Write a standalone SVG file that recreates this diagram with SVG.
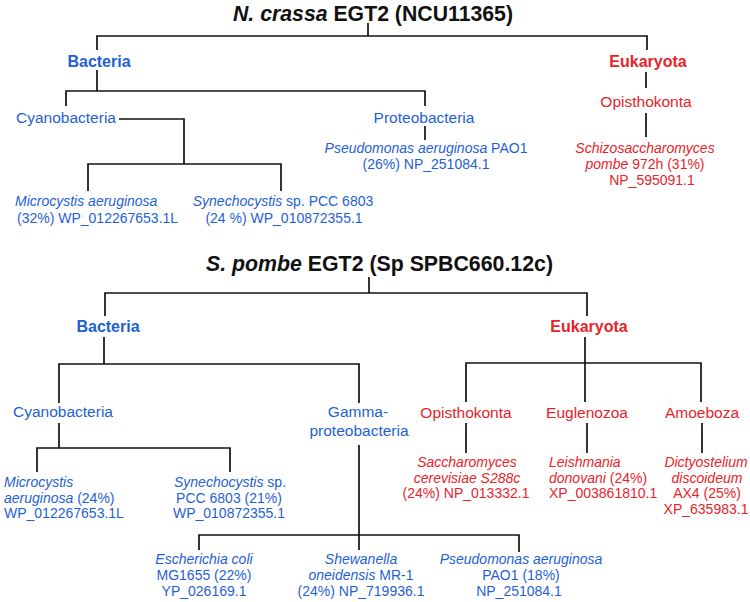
<svg xmlns="http://www.w3.org/2000/svg" width="750" height="602" viewBox="0 0 750 602">
<style>
text{font-family:"Liberation Sans",Arial,Helvetica,sans-serif;}
.title{font-size:22.5px;font-weight:bold;fill:#111;text-anchor:middle;}
.dom{font-size:16px;font-weight:bold;text-anchor:middle;}
.cat{font-size:15.5px;text-anchor:middle;}
.leaf{font-size:14px;}
.mid{text-anchor:middle;}
.b{fill:#1f5fd6;}
.r{fill:#e8242a;}
.i{font-style:italic;}
.conn path{fill:none;stroke:#111;stroke-width:1.7;}
</style>
<rect width="750" height="602" fill="#fff"/>
<g class="conn" id="connectors">
<path d="M368 23V36M97 50V36H647V50"/>
<path d="M97 70V91M66 106V91H425V106"/>
<path d="M646 72V88M646 113V137"/>
<path d="M425 126V140"/>
<path d="M119 119H184V164M88 191V164H281V191"/>
<path d="M369 277V293M105 316V293H587V316"/>
<path d="M104 337V364M59 403V364H359V403"/>
<path d="M585 337V402M466 402V363H701V402"/>
<path d="M59 423V448M37 472V448H230V472"/>
<path d="M359 445V550M199 550V535H519V552"/>
<path d="M466 423V453M587 423V453M702 423V453"/>
</g>
<g id="title-ncrassa"><text class="title" x="373" y="21" textLength="280" lengthAdjust="spacingAndGlyphs"><tspan font-style="italic">N. crassa</tspan> EGT2 (NCU11365)</text></g>
<g id="top-bacteria"><text class="dom b" x="99" y="67">Bacteria</text></g>
<g id="top-eukaryota"><text class="dom r" x="648" y="67">Eukaryota</text></g>
<g id="top-cyanobacteria"><text class="cat b" x="66" y="123">Cyanobacteria</text></g>
<g id="top-proteobacteria"><text class="cat b" x="424" y="123">Proteobacteria</text></g>
<g id="top-opisthokonta"><text class="cat r" x="646" y="107">Opisthokonta</text></g>
<g id="top-microcystis"><text class="leaf b" x="15" y="206"><tspan class="i">Microcystis aeruginosa</tspan></text><text class="leaf b" x="17" y="223">(32%) WP_012267653.1L</text></g>
<g id="top-synechocystis"><text class="leaf b mid" x="283" y="206"><tspan class="i">Synechocystis</tspan> sp. PCC 6803</text><text class="leaf b mid" x="284" y="223">(24 %) WP_010872355.1</text></g>
<g id="top-pseudomonas"><text class="leaf b mid" x="426" y="153"><tspan class="i">Pseudomonas aeruginosa</tspan> PAO1</text><text class="leaf b mid" x="426" y="169">(26%) NP_251084.1</text></g>
<g id="top-schizosaccharomyces"><text class="leaf r mid i" x="645" y="153">Schizosaccharomyces</text><text class="leaf r mid" x="645" y="169"><tspan class="i">pombe</tspan> 972h (31%)</text><text class="leaf r mid" x="652" y="185">NP_595091.1</text></g>
<g id="title-spombe"><text class="title" x="379.5" y="271" textLength="347" lengthAdjust="spacingAndGlyphs"><tspan font-style="italic">S. pombe</tspan> EGT2 (Sp SPBC660.12c)</text></g>
<g id="bot-bacteria"><text class="dom b" x="108" y="332">Bacteria</text></g>
<g id="bot-eukaryota"><text class="dom r" x="589" y="332">Eukaryota</text></g>
<g id="bot-cyanobacteria"><text class="cat b" x="63" y="417">Cyanobacteria</text></g>
<g id="bot-gammaproteobacteria"><text class="cat b" x="358" y="417">Gamma-</text><text class="cat b" x="359" y="436">proteobacteria</text></g>
<g id="bot-opisthokonta"><text class="cat r" x="466" y="418">Opisthokonta</text></g>
<g id="bot-euglenozoa"><text class="cat r" x="587" y="418">Euglenozoa</text></g>
<g id="bot-amoeboza"><text class="cat r" x="702" y="418">Amoeboza</text></g>
<g id="bot-microcystis"><text class="leaf b i" x="4" y="487">Microcystis</text><text class="leaf b" x="4" y="503"><tspan class="i">aeruginosa</tspan> (24%)</text><text class="leaf b" x="4" y="518">WP_012267653.1L</text></g>
<g id="bot-synechocystis"><text class="leaf b mid" x="230" y="487"><tspan class="i">Synechocystis</tspan> sp.</text><text class="leaf b mid" x="229" y="503">PCC 6803 (21%)</text><text class="leaf b mid" x="229" y="518">WP_010872355.1</text></g>
<g id="bot-saccharomyces"><text class="leaf r mid i" x="467" y="467">Saccharomyces</text><text class="leaf r mid i" x="467" y="483">cerevisiae S288c</text><text class="leaf r mid" x="466" y="498">(24%) NP_013332.1</text></g>
<g id="bot-leishmania"><text class="leaf r i" x="549" y="467">Leishmania</text><text class="leaf r" x="549" y="483"><tspan class="i">donovani</tspan> (24%)</text><text class="leaf r" x="549" y="498">XP_003861810.1</text></g>
<g id="bot-dictyostelium"><text class="leaf r mid i" x="706" y="467">Dictyostelium</text><text class="leaf r mid i" x="707" y="483">discoideum</text><text class="leaf r mid" x="707" y="498">AX4 (25%)</text><text class="leaf r mid" x="706" y="514">XP_635983.1</text></g>
<g id="bot-escherichia"><text class="leaf b mid i" x="204" y="564">Escherichia coli</text><text class="leaf b mid" x="204" y="580">MG1655 (22%)</text><text class="leaf b mid" x="204" y="596">YP_026169.1</text></g>
<g id="bot-shewanella"><text class="leaf b mid i" x="361" y="564">Shewanella</text><text class="leaf b mid" x="361" y="580"><tspan class="i">oneidensis</tspan> MR-1</text><text class="leaf b mid" x="361" y="596">(24%) NP_719936.1</text></g>
<g id="bot-pseudomonas"><text class="leaf b mid i" x="521" y="564">Pseudomonas aeruginosa</text><text class="leaf b mid" x="521" y="580">PAO1 (18%)</text><text class="leaf b mid" x="519" y="596">NP_251084.1</text></g>
</svg>
